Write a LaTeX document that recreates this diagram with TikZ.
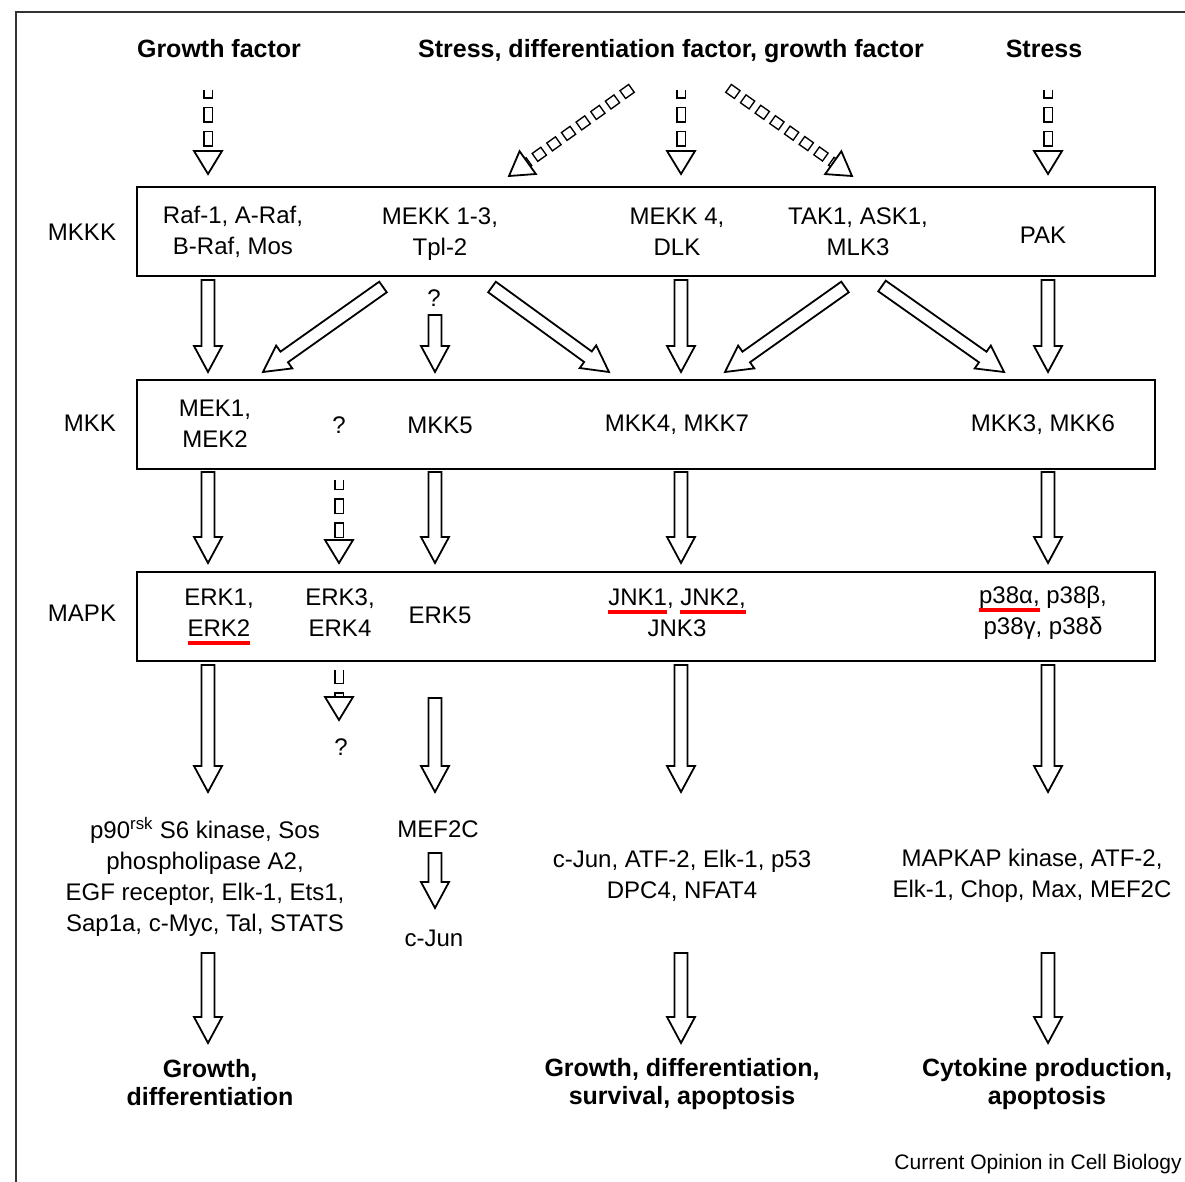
\documentclass[tikz,border=0pt]{standalone}
\usepackage{fontspec}
\setmainfont{Liberation Sans}
\usetikzlibrary{calc,positioning}

\newsavebox{\ulbox}
\newcommand{\redul}[1]{\sbox{\ulbox}{#1}\rlap{\smash{\color{red}\rule[-8pt]{\wd\ulbox}{4pt}}}\usebox{\ulbox}}

\tikzset{%
  level/.style    = {draw, line width=2pt, minimum width=1018pt, minimum height=89pt},
  txt/.style      = {font=\fontsize{24}{31}\selectfont, align=center, inner sep=0pt},
  head/.style     = {font=\bfseries\fontsize{25}{28}\selectfont, align=center, inner sep=0pt},
  barrow/.style   = {draw, fill=white, line width=1.8pt, to path={
      let \p1=(\tikztostart), \p2=(\tikztotarget), \n1={atan2(\y2-\y1,\x2-\x1)} in
      ($(\p1)+(\n1+90:6.5pt)$) -- ($(\p2)+(\n1+180:26pt)+(\n1+90:6.5pt)$)
      -- ($(\p2)+(\n1+180:26pt)+(\n1+90:14pt)$) -- (\p2)
      -- ($(\p2)+(\n1+180:26pt)+(\n1-90:14pt)$)
      -- ($(\p2)+(\n1+180:26pt)+(\n1-90:6.5pt)$)
      -- ($(\p1)+(\n1-90:6.5pt)$) -- cycle}}, % block arrow
  shaftpath/.style = {to path={let \p1=(\tikztostart), \p2=(\tikztotarget),
      \n1={atan2(\y2-\y1,\x2-\x1)} in (\p1) -- ($(\p2)+(\n1+180:23pt)$)}},
  dshaft/.style   = {draw, shaftpath, line width=10pt, dash pattern=on 16pt off 8pt, dash phase=#1,
      postaction={draw=white, line width=7pt,
        dash pattern=on 0pt off 1.5pt on 13pt off 9.5pt, dash phase=#1}}, % broken shaft
  dchain/.style   = {draw, shaftpath, line width=11pt, dash pattern=on 12pt off 6pt, dash phase=#1,
      postaction={draw=white, line width=8pt,
        dash pattern=on 0pt off 1.5pt on 9pt off 7.5pt, dash phase=#1}}, % slanted shaft
  dhead/.style    = {draw, fill=white, line width=1.8pt, to path={
      let \p1=(\tikztostart), \p2=(\tikztotarget), \n1={atan2(\y2-\y1,\x2-\x1)} in
      ($(\p2)+(\n1+180:23pt)+(\n1+90:14pt)$) -- (\p2)
      -- ($(\p2)+(\n1+180:23pt)+(\n1-90:14pt)$) -- cycle}}
}
\newcommand{\dasharrow}[4][dshaft]{\draw[#1=#2] (#3) to (#4); \draw[dhead] (#3) to (#4);}

\begin{document}
\begin{tikzpicture}[x=1pt, y=-1pt]
  \useasboundingbox (0,0) rectangle (1185,1182);
  \draw[line width=2.5pt, black!80] (16,1182) -- (16,12) -- (1185,12);

  % stimuli
  \node[head] (gf)  at (219,49)  {Growth factor};
  \node[head] (sdg) at (671,51)  {Stress, differentiation factor, growth factor};
  \node[head] (st)  at (1044,49) {Stress};

  % kinase levels
  \node[level] (mkkk) at (646,231.5) {};
  \node[level] (mkk)  at (646,424)   {};
  \node[level] (mapk) at (646,616.5) {};
  \node[txt] (l1) at (82,232) {MKKK};
  \node[txt] (l2) at (90,423) {MKK};
  \node[txt] (l3) at (82,613) {MAPK};

  \node[txt] (raf)   at (233,232)  {Raf-1, A-Raf,\\B-Raf, Mos};
  \node[txt] (mekk)  at (440,234)  {MEKK 1-3,\\Tpl-2};
  \node[txt] (mekk4) at (677,232)  {MEKK 4,\\DLK};
  \node[txt] (tak)   at (858,232)  {TAK1, ASK1,\\MLK3};
  \node[txt] (pak)   at (1043,235) {PAK};

  \node[txt] (mek)   at (215,424)  {MEK1,\\MEK2};
  \node[txt] (mkq)   at (339,425)  {?};
  \node[txt] (mkk5)  at (440,425)  {MKK5};
  \node[txt] (mkk47) at (677,425)  {MKK4, MKK7};
  \node[txt] (mkk36) at (1043,425) {MKK3, MKK6};

  \node[txt] (erk12) at (219,613)  {ERK1,\\\redul{ERK2}};
  \node[txt] (erk34) at (340,613)  {ERK3,\\ERK4};
  \node[txt] (erk5)  at (440,615)  {ERK5};
  \node[txt] (jnk)   at (677,613)  {\redul{JNK1}, \redul{JNK2,}\\JNK3};
  \node[txt] (p38)   at (1043,613) {\redul{p38α,} p38β,\\p38γ, p38δ};

  % substrates
  \node[txt] (mekkq) at (434,298)  {?};
  \node[txt] (erkq)  at (341,747)  {?};
  \node[txt] (p90)   at (205,877)  {p90\textsuperscript{rsk} S6 kinase, Sos\\phospholipase A2,\\EGF receptor, Elk-1, Ets1,\\Sap1a, c-Myc, Tal, STATS};
  \node[txt] (mef)   at (438,829)  {MEF2C};
  \node[txt] (cjun)  at (434,938)  {c-Jun};
  \node[txt] (jnkt)  at (682,876)  {c-Jun, ATF-2, Elk-1, p53\\DPC4, NFAT4};
  \node[txt] (p38t)  at (1032,876) {MAPKAP kinase, ATF-2,\\Elk-1, Chop, Max, MEF2C};

  % outcomes
  \node[head] (out1) at (210,1083)  {Growth,\\differentiation};
  \node[head] (out2) at (682,1084)  {Growth, differentiation,\\survival, apoptosis};
  \node[head] (out3) at (1047,1084) {Cytokine production,\\apoptosis};
  \node[txt, font=\fontsize{21}{25}\selectfont] (credit) at (1038,1164) {Current Opinion in Cell Biology};

  % columns and rows for the arrows
  \foreach \n/\x in {c1/208, c2/339, c3/435, c4/681, c5/1048}
    \coordinate (\n) at (\x,0);
  \foreach \n/\y in {r0/90, r0e/174, r1/280, r1e/372, r1q/315, r2/472, r2e/563, r2d/480,
                     r3/665, r3e/792, r3m/698, r3d/670, r3de/720, r4/853, r4e/908, r5/953, r5e/1043}
    \coordinate (\n) at (0,\y);
  \coordinate (ds1) at (632,88);  \coordinate (de1) at (509,176);
  \coordinate (ds2) at (728,88);  \coordinate (de2) at (852,176);
  \coordinate (a1) at (383,287);  \coordinate (b1) at (263,372);
  \coordinate (a2) at (492,287);  \coordinate (b2) at (609,372);
  \coordinate (a3) at (845,287);  \coordinate (b3) at (725,372);
  \coordinate (a4) at (882,286);  \coordinate (b4) at (1004,372);

  % stimulus -> MKKK
  \foreach \c in {c1,c4,c5}
    {\dasharrow{7pt}{\c |- r0}{\c |- r0e}}
  \dasharrow[dchain]{0pt}{ds1}{de1}
  \dasharrow[dchain]{0pt}{ds2}{de2}

  % MKKK -> MKK
  \foreach \c in {c1,c4,c5}
    \draw[barrow] (\c |- r1) to (\c |- r1e);
  \draw[barrow] (c3 |- r1q) to (c3 |- r1e);
  \foreach \i in {1,...,4}
    \draw[barrow] (a\i) to (b\i);

  % MKK -> MAPK
  \foreach \c in {c1,c3,c4,c5}
    \draw[barrow] (\c |- r2) to (\c |- r2e);
  \dasharrow{6pt}{c2 |- r2d}{c2 |- r2e}

  % MAPK -> substrates -> outcomes
  \foreach \c in {c1,c4,c5}
    \draw[barrow] (\c |- r3) to (\c |- r3e);
  \draw[barrow] (c3 |- r3m) to (c3 |- r3e);
  \dasharrow{2pt}{c2 |- r3d}{c2 |- r3de}
  \draw[barrow] (c3 |- r4) to (c3 |- r4e);
  \foreach \c in {c1,c4,c5}
    \draw[barrow] (\c |- r5) to (\c |- r5e);
\end{tikzpicture}
\end{document}
